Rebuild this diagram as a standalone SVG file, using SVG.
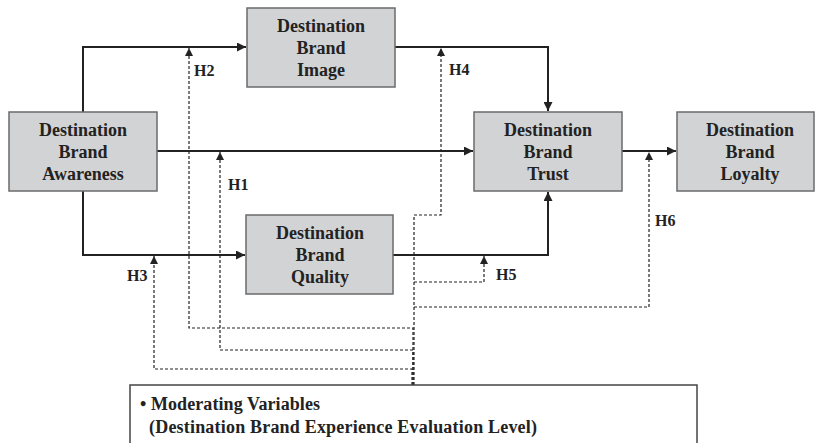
<svg xmlns="http://www.w3.org/2000/svg" width="816" height="443" viewBox="0 0 816 443">
<defs>
<marker id="ah" viewBox="0 0 10 10" refX="10" refY="5" markerWidth="9" markerHeight="9" markerUnits="userSpaceOnUse" orient="auto"><path d="M0,0 L10,5 L0,10 z" fill="#222"/></marker>
<marker id="ahd" viewBox="0 0 10 10" refX="10" refY="5" markerWidth="8" markerHeight="8" markerUnits="userSpaceOnUse" orient="auto"><path d="M0,0 L10,5 L0,10 z" fill="#222"/></marker>
</defs>
<style>
.box{fill:#d2d3d5;stroke:#6b6b6b;stroke-width:1.5}
.mod{fill:#fff;stroke:#444;stroke-width:1.5}
.t{font-family:"Liberation Serif","Times New Roman",serif;font-weight:bold;font-size:18px;fill:#222;text-anchor:middle}
.h{font-family:"Liberation Serif","Times New Roman",serif;font-weight:bold;font-size:16px;fill:#222}
.m{font-family:"Liberation Serif","Times New Roman",serif;font-weight:bold;font-size:18px;fill:#222}
.s{fill:none;stroke:#222;stroke-width:2}
.d{fill:none;stroke:#222;stroke-width:1.2;stroke-dasharray:3,2}
</style>
<rect width="816" height="443" fill="#fff"/>
<g id="connectors">
<path class="s" d="M83,112 V47 H246" marker-end="url(#ah)"/>
<path class="s" d="M395,47 H548 V111" marker-end="url(#ah)"/>
<path class="s" d="M157,151 H473" marker-end="url(#ah)"/>
<path class="s" d="M622,151 H676" marker-end="url(#ah)"/>
<path class="s" d="M83,191 V255 H245" marker-end="url(#ah)"/>
<path class="s" d="M393,255 H548 V192" marker-end="url(#ah)"/>
<path class="d" d="M413,385 V328 H189 V48" marker-end="url(#ahd)"/>
<path class="d" d="M413,385 V350 H220 V152" marker-end="url(#ahd)"/>
<path class="d" d="M412,385 V369 H154 V256" marker-end="url(#ahd)"/>
<path class="d" d="M414,385 V215 H441 V48" marker-end="url(#ahd)"/>
<path class="d" d="M414,282 H484 V256" marker-end="url(#ahd)"/>
<path class="d" d="M414,307 H649 V152" marker-end="url(#ahd)"/>
<text class="h" x="194" y="76">H2</text>
<text class="h" x="228" y="190">H1</text>
<text class="h" x="449" y="75">H4</text>
<text class="h" x="127" y="281">H3</text>
<text class="h" x="496" y="280">H5</text>
<text class="h" x="655" y="226">H6</text>
</g>
<g id="awareness">
<rect class="box" x="9" y="112" width="148" height="79"/>
<text class="t" x="83" y="136">Destination</text>
<text class="t" x="83" y="158">Brand</text>
<text class="t" x="83" y="180">Awareness</text>
</g>
<g id="image">
<rect class="box" x="247" y="8" width="148" height="79"/>
<text class="t" x="321" y="32">Destination</text>
<text class="t" x="321" y="54">Brand</text>
<text class="t" x="321" y="76">Image</text>
</g>
<g id="trust">
<rect class="box" x="474" y="112" width="148" height="79"/>
<text class="t" x="548" y="136">Destination</text>
<text class="t" x="548" y="158">Brand</text>
<text class="t" x="548" y="180">Trust</text>
</g>
<g id="loyalty">
<rect class="box" x="677" y="112" width="137" height="79"/>
<text class="t" x="750" y="136">Destination</text>
<text class="t" x="750" y="158">Brand</text>
<text class="t" x="750" y="180">Loyalty</text>
</g>
<g id="quality">
<rect class="box" x="246" y="215" width="147" height="79"/>
<text class="t" x="320" y="239">Destination</text>
<text class="t" x="320" y="261">Brand</text>
<text class="t" x="320" y="283">Quality</text>
</g>
<g id="moderating">
<rect class="mod" x="130" y="385" width="567" height="70"/>
<text class="m" x="140" y="410" textLength="180">• Moderating Variables</text>
<text class="m" x="149" y="433" textLength="388">(Destination Brand Experience Evaluation Level)</text>
</g>
</svg>
